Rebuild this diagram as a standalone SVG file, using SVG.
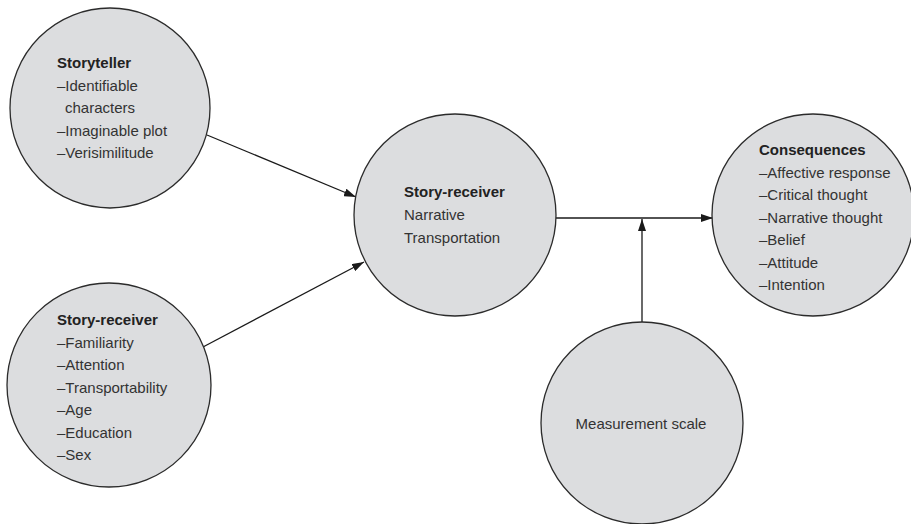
<svg xmlns="http://www.w3.org/2000/svg" width="911" height="524" viewBox="0 0 911 524">
<defs>
<style>
.node circle { fill:#dcdddf; stroke:#2b2b2b; stroke-width:1.3; }
text { font-family:"Liberation Sans", Arial, sans-serif; font-size:15px; fill:#333; }
.h { font-weight:bold; fill:#222; }
.conn line { stroke:#1a1a1a; stroke-width:1.3; fill:none; }
</style>
<marker id="ah" markerWidth="12" markerHeight="8" refX="12" refY="4" orient="auto" markerUnits="userSpaceOnUse"><path d="M0,0 L12,4 L0,8 Z" fill="#1a1a1a"/></marker>
</defs>
<rect width="911" height="524" fill="#fff"/>
<g id="connectors" class="conn">
<line x1="207" y1="135" x2="356" y2="197" marker-end="url(#ah)"/>
<line x1="203" y1="347" x2="364" y2="262" marker-end="url(#ah)"/>
<line x1="556" y1="218" x2="713" y2="218" marker-end="url(#ah)"/>
<line x1="642" y1="322" x2="642" y2="219" marker-end="url(#ah)"/>
</g>
<g id="storyteller" class="node">
<circle cx="110" cy="108" r="100"/>
<text class="h" x="57" y="68">Storyteller</text>
<text x="57" y="90.5">–Identifiable</text>
<text x="65" y="113">characters</text>
<text x="57" y="135.5">–Imaginable plot</text>
<text x="57" y="158">–Verisimilitude</text>
</g>
<g id="receiver-left" class="node">
<circle cx="109" cy="385" r="102"/>
<text class="h" x="57" y="325">Story-receiver</text>
<text x="57" y="347.5">–Familiarity</text>
<text x="57" y="370">–Attention</text>
<text x="57" y="392.5">–Transportability</text>
<text x="57" y="415">–Age</text>
<text x="57" y="437.5">–Education</text>
<text x="57" y="460">–Sex</text>
</g>
<g id="receiver-center" class="node">
<circle cx="455" cy="215" r="101"/>
<text class="h" x="404" y="197">Story-receiver</text>
<text x="404" y="220">Narrative</text>
<text x="404" y="243">Transportation</text>
</g>
<g id="consequences" class="node">
<circle cx="813" cy="215" r="101"/>
<text class="h" x="759" y="155">Consequences</text>
<text x="759" y="177.5">–Affective response</text>
<text x="759" y="200">–Critical thought</text>
<text x="759" y="222.5">–Narrative thought</text>
<text x="759" y="245">–Belief</text>
<text x="759" y="267.5">–Attitude</text>
<text x="759" y="290">–Intention</text>
</g>
<g id="measurement" class="node">
<circle cx="642" cy="423" r="101"/>
<text x="641" y="429" text-anchor="middle" fill="#222">Measurement scale</text>
</g>
</svg>
